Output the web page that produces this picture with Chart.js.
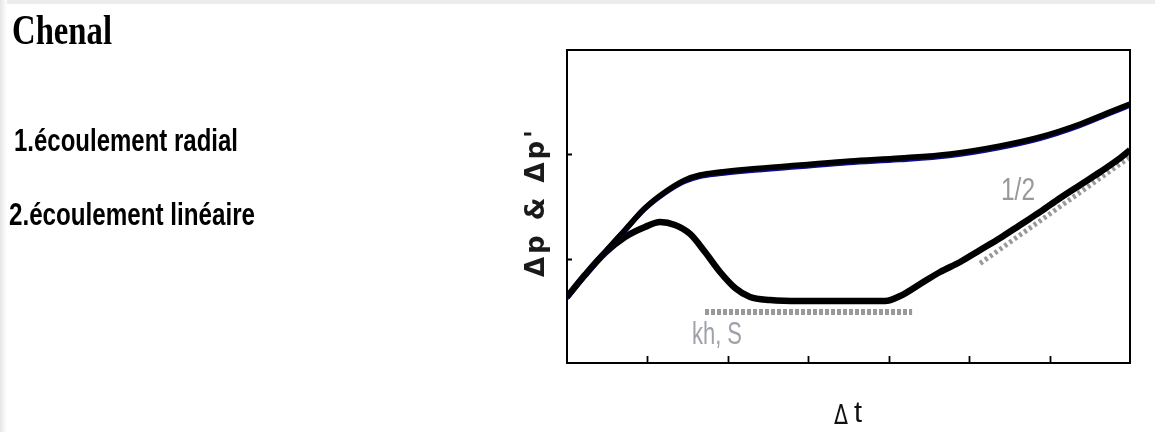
<!DOCTYPE html>
<html><head><meta charset="utf-8">
<script src="https://cdn.jsdelivr.net/npm/chart.js@4/dist/chart.umd.min.js"></script>
<style>html,body{margin:0;padding:0;background:#fff;}canvas{display:block;}</style>
</head><body>
<canvas id="c" width="1155" height="432"></canvas>
<script>
// ---- data (x in log-cycles of Δt, y in log-cycles of pressure) ----
const dpX = [0, 0.224, 0.473, 0.721, 0.970, 1.219, 1.468, 1.654, 1.903, 2.276, 2.898, 3.520, 4.142, 4.764, 5.386, 5.883, 6.381, 6.754, 7.0];
const dpY = [0.633, 0.844, 1.064, 1.275, 1.486, 1.640, 1.755, 1.802, 1.831, 1.860, 1.898, 1.937, 1.965, 2.004, 2.081, 2.167, 2.291, 2.407, 2.483];
const derX = [0, 0.224, 0.473, 0.721, 0.970, 1.157, 1.343, 1.530, 1.716, 1.903, 2.090, 2.276, 2.525, 2.898, 3.520, 3.955, 4.142, 4.391, 4.639, 4.888, 5.137, 5.386, 5.634, 5.883, 6.132, 6.381, 6.629, 6.878, 7.0];
const derY = [0.633, 0.844, 1.055, 1.208, 1.304, 1.352, 1.323, 1.237, 1.064, 0.872, 0.719, 0.633, 0.604, 0.594, 0.594, 0.594, 0.642, 0.757, 0.872, 0.968, 1.083, 1.198, 1.323, 1.448, 1.582, 1.707, 1.831, 1.965, 2.042];
const radialX = [1.716, 4.291];
const radialY = [0.489, 0.489];
const linearX = [5.137, 7.0];
const linearY = [0.955, 1.975];
const xTicks = [1, 2, 3, 4, 5, 6];
const yTicks = [1, 2];
const titleText = "Chenal";
const item1 = "1.écoulement radial";
const item2 = "2.écoulement linéaire";
const yLabel = "Δp & Δp'";
const radialLabel = "kh, S";
const slopeLabel = "1/2";

const pts = (xs, ys) => xs.map((x, i) => ({x, y: ys[i]}));

const decor = {
  id: 'decor',
  beforeDraw(chart) {
    const ctx = chart.ctx;
    ctx.save();
    ctx.fillStyle = '#ffffff';
    ctx.fillRect(0, 0, chart.width, chart.height);
    ctx.fillStyle = '#ececec';
    ctx.fillRect(0, 0, chart.width, 4);
    const g = ctx.createLinearGradient(0, 0, 7, 0);
    g.addColorStop(0, '#e6e6e6'); g.addColorStop(1, '#ffffff');
    ctx.fillStyle = g;
    ctx.fillRect(0, 0, 7, chart.height);
    ctx.restore();
  },
  beforeDatasetDraw(chart, args) {
    if (args.index === 0) {
      const ctx = chart.ctx;
      ctx.save();
      ctx.shadowColor = '#0c0c8c';
      ctx.shadowOffsetX = -1.2;
      ctx.shadowOffsetY = 1.6;
      ctx.shadowBlur = 0;
    }
  },
  afterDatasetDraw(chart, args) {
    if (args.index === 0) chart.ctx.restore();
  },
  afterDraw(chart) {
    const ctx = chart.ctx;
    const a = chart.chartArea;
    const xs = chart.scales.x, ys = chart.scales.y;
    ctx.save();
    // box
    ctx.strokeStyle = '#000';
    ctx.lineWidth = 2;
    ctx.strokeRect(a.left, a.top, a.right - a.left, a.bottom - a.top);
    // ticks (inward)
    ctx.lineWidth = 1.8;
    ctx.beginPath();
    xTicks.forEach(v => {
      const px = Math.round(xs.getPixelForValue(v)) + 0.5;
      ctx.moveTo(px, a.bottom);
      ctx.lineTo(px, a.bottom - 7);
    });
    yTicks.forEach(v => {
      const py = Math.round(ys.getPixelForValue(v)) + 0.5;
      ctx.moveTo(a.left, py);
      ctx.lineTo(a.left + 5, py);
    });
    ctx.stroke();

    // left texts
    ctx.fillStyle = '#000';
    ctx.textBaseline = 'alphabetic';
    ctx.textAlign = 'left';
    ctx.font = 'bold 43px "Liberation Serif", serif';
    ctx.fillText(titleText, 12, 44, 100);
    ctx.font = 'bold 31px "Liberation Sans", Arial, sans-serif';
    ctx.fillText(item1, 14, 151, 224);
    ctx.fillText(item2, 9, 225, 246);

    // annotations
    ctx.fillStyle = '#9ea2a8';
    ctx.font = '31px "Liberation Sans", Arial, sans-serif';
    ctx.fillText(radialLabel, 692, 344, 50);
    ctx.fillStyle = '#999999';
    ctx.font = '32px "Liberation Sans", Arial, sans-serif';
    ctx.fillText(slopeLabel, 1001, 200, 34);

    // x label
    ctx.fillStyle = '#111';
    ctx.font = '27px "DejaVu Sans", sans-serif';
    ctx.fillText('Δ', 834, 424, 14);
    ctx.font = '29px "Liberation Sans", Arial, sans-serif';
    ctx.fillText('t', 854, 422, 9);

    // y label rotated
    ctx.save();
    ctx.translate(544, 204);
    ctx.rotate(-Math.PI / 2);
    ctx.fillStyle = '#1a1a1a';
    ctx.font = 'bold 26px "DejaVu Sans", sans-serif';
    try { ctx.letterSpacing = '3px'; } catch (e) {}
    ctx.textAlign = 'center';
    ctx.fillText(yLabel, 2, 0, 150);
    ctx.restore();

    ctx.restore();
  }
};

new Chart(document.getElementById('c'), {
  type: 'line',
  data: {
    datasets: [
      { data: pts(dpX, dpY), borderColor: '#000', borderWidth: 5.5, pointRadius: 0, tension: 0.4, cubicInterpolationMode: 'monotone', fill: false },
      { data: pts(derX, derY), borderColor: '#000', borderWidth: 6.5, pointRadius: 0, tension: 0.4, cubicInterpolationMode: 'monotone', fill: false },
      { data: pts(radialX, radialY), borderColor: '#999999', borderWidth: 6, borderDash: [4, 2], pointRadius: 0, fill: false },
      { data: pts(linearX, linearY), borderColor: '#999999', borderWidth: 5, borderDash: [3, 3], pointRadius: 0, fill: false }
    ]
  },
  options: {
    responsive: false,
    animation: false,
    layout: { padding: { left: 567, right: 25, top: 50, bottom: 69 } },
    plugins: { legend: { display: false }, tooltip: { enabled: false }, title: { display: false } },
    scales: {
      x: { type: 'linear', min: 0, max: 7, display: false },
      y: { type: 'linear', min: 0, max: 3, display: false }
    }
  },
  plugins: [decor]
});
</script>
</body></html>
